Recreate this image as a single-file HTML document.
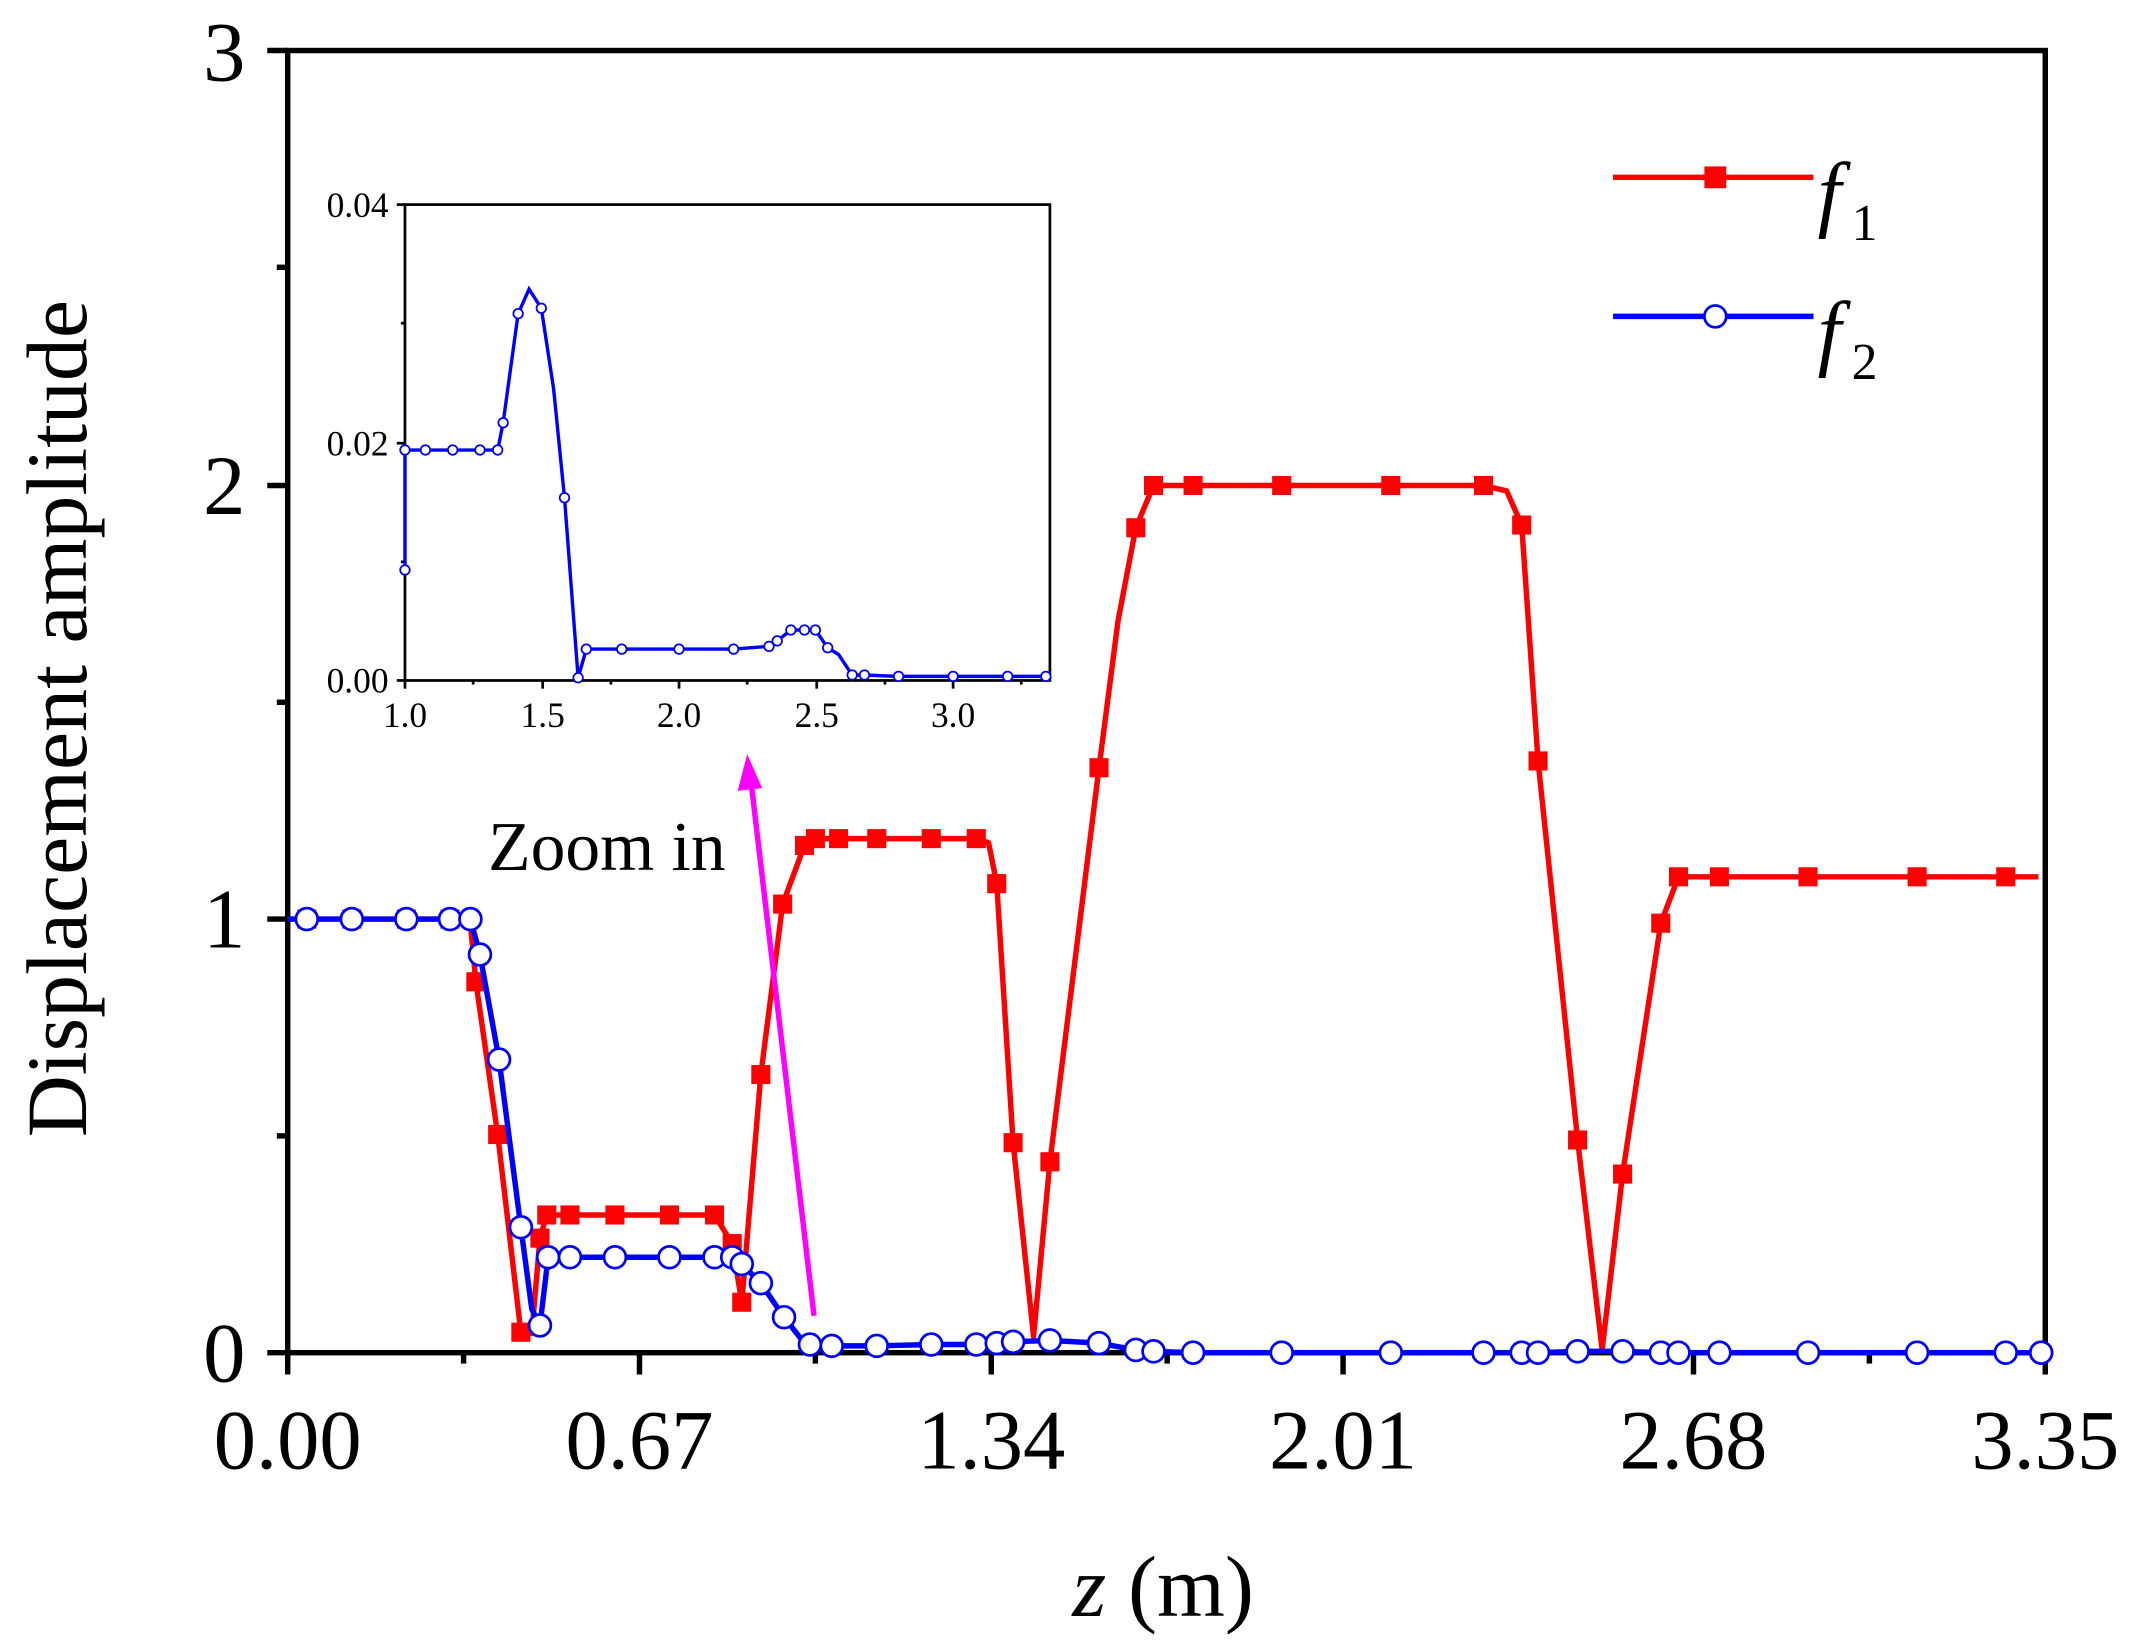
<!DOCTYPE html>
<html><head><meta charset="utf-8"><style>html,body{margin:0;padding:0;background:#fff}svg{display:block}</style></head>
<body>
<svg width="2138" height="1650" viewBox="0 0 1568 1210" xmlns="http://www.w3.org/2000/svg" font-family="Liberation Serif, serif">
<rect width="1568" height="1210" fill="#fff"/>
<rect x="211" y="37" width="1289" height="955" fill="none" stroke="#000" stroke-width="4"/>
<g stroke="#000" stroke-width="4">
<line x1="196" y1="992" x2="211" y2="992"/><line x1="196" y1="674" x2="211" y2="674"/><line x1="196" y1="356" x2="211" y2="356"/><line x1="196" y1="37" x2="211" y2="37"/>
<line x1="203" y1="833" x2="211" y2="833"/><line x1="203" y1="515" x2="211" y2="515"/><line x1="203" y1="196" x2="211" y2="196"/>
<line x1="211" y1="992" x2="211" y2="1008"/><line x1="469" y1="992" x2="469" y2="1008"/><line x1="727" y1="992" x2="727" y2="1008"/><line x1="985" y1="992" x2="985" y2="1008"/><line x1="1242" y1="992" x2="1242" y2="1008"/><line x1="1500" y1="992" x2="1500" y2="1008"/>
<line x1="340" y1="992" x2="340" y2="1000"/><line x1="598" y1="992" x2="598" y2="1000"/><line x1="856" y1="992" x2="856" y2="1000"/><line x1="1113" y1="992" x2="1113" y2="1000"/><line x1="1371" y1="992" x2="1371" y2="1000"/>
</g>
<g font-size="62" text-anchor="end">
<text x="180" y="1013">0</text><text x="180" y="695">1</text><text x="180" y="377">2</text><text x="180" y="59">3</text>
</g>
<g font-size="62" text-anchor="middle">
<text x="211" y="1077">0.00</text><text x="469" y="1077">0.67</text><text x="727" y="1077">1.34</text><text x="985" y="1077">2.01</text><text x="1242" y="1077">2.68</text><text x="1500" y="1077">3.35</text>
</g>
<text x="853" y="1185" font-size="64" text-anchor="middle"><tspan font-style="italic">z</tspan> (m)</text>
<text transform="translate(63,527) rotate(-90)" font-size="63" text-anchor="middle">Displacement amplitude</text>

<polyline fill="none" stroke="#f00" stroke-width="4" stroke-linejoin="round" points="211,674 225,674 258,674 298,674 330,674 345,678 349,720 365,832 382,977 390,978 396,908 401,891 418,891 451,891 491,891 524,891 537,912 544,955 558,788 574,663 590,620 598,615 615,615 643,615 683,615 716,615 725,618 731,648 743,838 758,980 770,852 806,563 820,455 833,387 846,356 875,356 940,356 1020,356 1088,356 1105,360 1116,385 1128,558 1157,836 1175,990 1190,861 1218,677 1231,643 1261,643 1326,643 1406,643 1471,643 1495,643"/>
<g fill="#f00" transform="translate(-7,-7)">
<rect x="225" y="674" width="14" height="14"/><rect x="258" y="674" width="14" height="14"/><rect x="298" y="674" width="14" height="14"/><rect x="330" y="674" width="14" height="14"/>
<rect x="349" y="720" width="14" height="14"/><rect x="365" y="832" width="14" height="14"/><rect x="382" y="977" width="14" height="14"/><rect x="396" y="908" width="14" height="14"/>
<rect x="401" y="891" width="14" height="14"/><rect x="418" y="891" width="14" height="14"/><rect x="451" y="891" width="14" height="14"/><rect x="491" y="891" width="14" height="14"/><rect x="524" y="891" width="14" height="14"/>
<rect x="537" y="912" width="14" height="14"/><rect x="544" y="955" width="14" height="14"/><rect x="558" y="788" width="14" height="14"/><rect x="574" y="663" width="14" height="14"/><rect x="590" y="620" width="14" height="14"/>
<rect x="598" y="615" width="14" height="14"/><rect x="615" y="615" width="14" height="14"/><rect x="643" y="615" width="14" height="14"/><rect x="683" y="615" width="14" height="14"/><rect x="716" y="615" width="14" height="14"/>
<rect x="731" y="648" width="14" height="14"/><rect x="743" y="838" width="14" height="14"/><rect x="770" y="852" width="14" height="14"/><rect x="806" y="563" width="14" height="14"/><rect x="833" y="387" width="14" height="14"/>
<rect x="846" y="356" width="14" height="14"/><rect x="875" y="356" width="14" height="14"/><rect x="940" y="356" width="14" height="14"/><rect x="1020" y="356" width="14" height="14"/><rect x="1088" y="356" width="14" height="14"/>
<rect x="1116" y="385" width="14" height="14"/><rect x="1128" y="558" width="14" height="14"/><rect x="1157" y="836" width="14" height="14"/><rect x="1190" y="861" width="14" height="14"/><rect x="1218" y="677" width="14" height="14"/>
<rect x="1231" y="643" width="14" height="14"/><rect x="1261" y="643" width="14" height="14"/><rect x="1326" y="643" width="14" height="14"/><rect x="1406" y="643" width="14" height="14"/><rect x="1471" y="643" width="14" height="14"/>
</g>
<polyline fill="none" stroke="#00f" stroke-width="4" stroke-linejoin="round" points="211,674 225,674 258,674 298,674 330,674 345,674 352,700 366,777 382,900 390,960 396,972 402,922 418,922 451,922 491,922 524,922 537,922 544,927 558,941 575,966 590,985 598,986 610,987 643,987 683,986 716,986 731,985 743,984 770,983 806,985 833,990 846,991 875,992 940,992 1020,992 1088,992 1116,992 1128,992 1157,991 1190,991 1218,992 1231,992 1261,992 1326,992 1406,992 1471,992 1497,992"/>
<g fill="#fff" stroke="#00f" stroke-width="2">
<circle cx="225" cy="674" r="8"/><circle cx="258" cy="674" r="8"/><circle cx="298" cy="674" r="8"/><circle cx="330" cy="674" r="8"/><circle cx="345" cy="674" r="8"/>
<circle cx="352" cy="700" r="8"/><circle cx="366" cy="777" r="8"/><circle cx="382" cy="900" r="8"/><circle cx="396" cy="972" r="8"/><circle cx="402" cy="922" r="8"/>
<circle cx="418" cy="922" r="8"/><circle cx="451" cy="922" r="8"/><circle cx="491" cy="922" r="8"/><circle cx="524" cy="922" r="8"/><circle cx="537" cy="922" r="8"/><circle cx="544" cy="927" r="8"/>
<circle cx="558" cy="941" r="8"/><circle cx="575" cy="966" r="8"/><circle cx="594" cy="986" r="8"/><circle cx="610" cy="987" r="8"/><circle cx="643" cy="987" r="8"/><circle cx="683" cy="986" r="8"/>
<circle cx="716" cy="986" r="8"/><circle cx="731" cy="985" r="8"/><circle cx="743" cy="984" r="8"/><circle cx="770" cy="983" r="8"/><circle cx="806" cy="985" r="8"/><circle cx="833" cy="990" r="8"/>
<circle cx="846" cy="991" r="8"/><circle cx="875" cy="992" r="8"/><circle cx="940" cy="992" r="8"/><circle cx="1020" cy="992" r="8"/><circle cx="1088" cy="992" r="8"/><circle cx="1116" cy="992" r="8"/>
<circle cx="1128" cy="992" r="8"/><circle cx="1157" cy="991" r="8"/><circle cx="1190" cy="991" r="8"/><circle cx="1218" cy="992" r="8"/><circle cx="1231" cy="992" r="8"/><circle cx="1261" cy="992" r="8"/>
<circle cx="1326" cy="992" r="8"/><circle cx="1406" cy="992" r="8"/><circle cx="1471" cy="992" r="8"/><circle cx="1497" cy="992" r="8"/>
</g>

<rect x="297" y="150" width="473" height="349" fill="#fff" stroke="#000" stroke-width="2"/>
<g stroke="#000" stroke-width="2">
<line x1="291" y1="150" x2="297" y2="150"/><line x1="291" y1="325" x2="297" y2="325"/><line x1="291" y1="499" x2="297" y2="499"/>
<line x1="294" y1="237" x2="297" y2="237"/><line x1="294" y1="412" x2="297" y2="412"/>
<line x1="297" y1="499" x2="297" y2="505"/><line x1="398" y1="499" x2="398" y2="505"/><line x1="498" y1="499" x2="498" y2="505"/><line x1="599" y1="499" x2="599" y2="505"/><line x1="699" y1="499" x2="699" y2="505"/>
<line x1="347" y1="499" x2="347" y2="502"/><line x1="448" y1="499" x2="448" y2="502"/><line x1="548" y1="499" x2="548" y2="502"/><line x1="649" y1="499" x2="649" y2="502"/><line x1="749" y1="499" x2="749" y2="502"/>
</g>
<g font-size="26" text-anchor="end"><text x="285" y="159">0.04</text><text x="285" y="334">0.02</text><text x="285" y="508">0.00</text></g>
<g font-size="26" text-anchor="middle"><text x="297" y="533">1.0</text><text x="398" y="533">1.5</text><text x="498" y="533">2.0</text><text x="599" y="533">2.5</text><text x="699" y="533">3.0</text></g>
<polyline fill="none" stroke="#00f" stroke-width="2.5" points="297,418 297,330 312,330 332,330 352,330 365,330 369,310 380,230 388,212 397,226 406,285 414,365 424,497 430,476 456,476 498,476 538,476 564,474 570,470 580,462 590,462 598,462 607,475 615,480 625,495 634,495 659,496 699,496 739,496 767,496"/>
<g fill="#fff" stroke="#00f" stroke-width="1.3">
<circle cx="297" cy="418" r="3.5"/><circle cx="297" cy="330" r="3.5"/><circle cx="312" cy="330" r="3.5"/><circle cx="332" cy="330" r="3.5"/><circle cx="352" cy="330" r="3.5"/><circle cx="365" cy="330" r="3.5"/>
<circle cx="369" cy="310" r="3.5"/><circle cx="380" cy="230" r="3.5"/><circle cx="397" cy="226" r="3.5"/><circle cx="414" cy="365" r="3.5"/><circle cx="424" cy="497" r="3.5"/><circle cx="430" cy="476" r="3.5"/>
<circle cx="456" cy="476" r="3.5"/><circle cx="498" cy="476" r="3.5"/><circle cx="538" cy="476" r="3.5"/><circle cx="564" cy="474" r="3.5"/><circle cx="570" cy="470" r="3.5"/><circle cx="580" cy="462" r="3.5"/>
<circle cx="590" cy="462" r="3.5"/><circle cx="598" cy="462" r="3.5"/><circle cx="607" cy="475" r="3.5"/><circle cx="625" cy="495" r="3.5"/><circle cx="634" cy="495" r="3.5"/><circle cx="659" cy="496" r="3.5"/>
<circle cx="699" cy="496" r="3.5"/><circle cx="739" cy="496" r="3.5"/><circle cx="767" cy="496" r="3.5"/>
</g>

<line x1="597" y1="965" x2="551" y2="575" stroke="#f0f" stroke-width="4"/>
<polygon points="548,553 541,580 559,578" fill="#f0f"/>
<text x="358" y="638" font-size="51">Zoom in</text>

<line x1="1183" y1="130" x2="1330" y2="130" stroke="#f00" stroke-width="4"/>
<rect x="1250" y="122" width="16" height="16" fill="#f00"/>
<text x="1333" y="162" font-size="62" font-style="italic">f</text><text x="1358" y="176" font-size="38">1</text>
<line x1="1183" y1="232" x2="1330" y2="232" stroke="#00f" stroke-width="4"/>
<circle cx="1258" cy="232" r="8" fill="#fff" stroke="#00f" stroke-width="2"/>
<text x="1333" y="264" font-size="62" font-style="italic">f</text><text x="1358" y="278" font-size="38">2</text>
</svg>
</body></html>
